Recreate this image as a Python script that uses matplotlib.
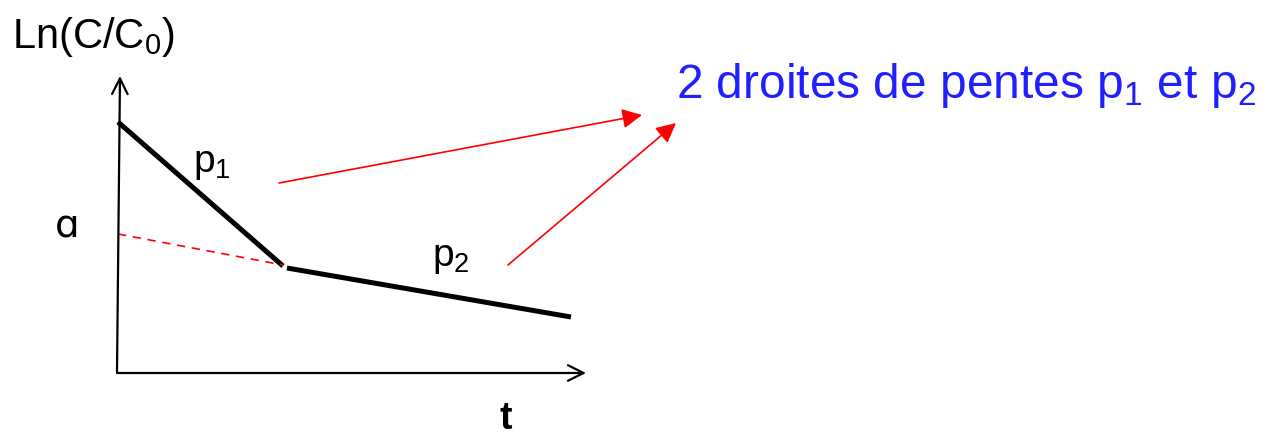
import matplotlib
matplotlib.use("Agg")
import matplotlib.pyplot as plt

plt.rcParams['font.family'] = 'Liberation Sans'
plt.rcParams['mathtext.fontset'] = 'custom'
plt.rcParams['mathtext.rm'] = 'Liberation Sans'
plt.rcParams['mathtext.it'] = 'Liberation Sans'

# schematic geometry (pixel coordinates of the sketch)
y_axis = [(117, 372), (120, 76)]
x_axis = [(117, 373), (586, 373)]
seg1_x = [118, 283]
seg1_y = [122, 266]
seg2_x = [287, 571]
seg2_y = [268, 317]
extrap_x = [118, 283]
extrap_y = [234, 265]
arrow1 = [(279, 183), (642, 115)]
arrow2 = [(508, 265), (676, 123)]

fig = plt.figure(figsize=(12.67, 4.41), dpi=100)
ax = fig.add_axes([0, 0, 1, 1])
ax.set_xlim(0, 1267)
ax.set_ylim(441, 0)
ax.axis('off')

# axes of the sketch
ax.annotate('', xy=y_axis[1], xytext=y_axis[0],
            arrowprops=dict(arrowstyle='->', lw=1.6, color='black',
                            mutation_scale=28, shrinkA=0, shrinkB=0))
ax.annotate('', xy=x_axis[1], xytext=x_axis[0],
            arrowprops=dict(arrowstyle='->', lw=1.6, color='black',
                            mutation_scale=28, shrinkA=0, shrinkB=0))

# two straight lines
ax.plot(seg1_x, seg1_y, color='black', lw=3.6, solid_capstyle='butt')
ax.plot(seg2_x, seg2_y, color='black', lw=3.6, solid_capstyle='butt')
ax.plot(extrap_x, extrap_y, color='red', lw=1.2, ls=(0, (5, 4)))

# red arrows
for a in (arrow1, arrow2):
    ax.annotate('', xy=a[1], xytext=a[0],
                arrowprops=dict(arrowstyle='-|>', lw=1.2, color='red',
                                mutation_scale=30, shrinkA=0, shrinkB=0))

ax.text(12, 48, r'Ln(C/C$_0$)', fontsize=30, color='black', va='baseline')
ax.text(55, 238, '\u0251', fontsize=28, color='black', va='baseline',
        family='DejaVu Sans')
ax.text(193, 172, r'p$_1$', fontsize=28, color='black', va='baseline')
ax.text(432, 266, r'p$_2$', fontsize=28, color='black', va='baseline')
ax.text(499, 429, 't', fontsize=27, color='black', va='baseline', fontweight='bold')
ax.text(676, 98, r'2 droites de pentes p$_1$ et p$_2$', fontsize=34.5,
        color='#2020ff', va='baseline')

fig.savefig('out.png', dpi=100)
